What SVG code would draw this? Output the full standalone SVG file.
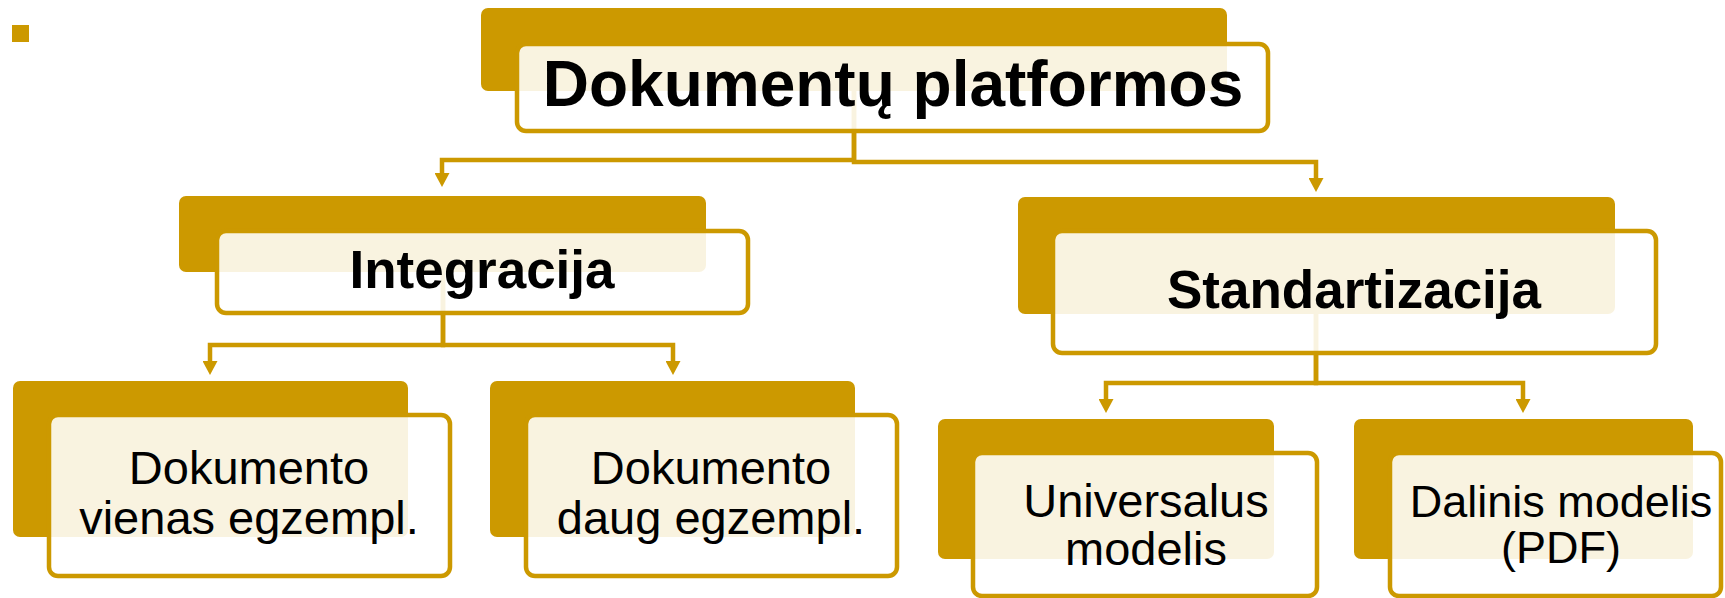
<svg xmlns="http://www.w3.org/2000/svg" width="1725" height="598" viewBox="0 0 1725 598">
<style>
.dark{fill:#CC9900;}
.box{fill:#FFFFFF;fill-opacity:0.88;stroke:#CC9900;stroke-width:4.5;}
.conn{fill:none;stroke:#CC9900;stroke-width:4.5;}
.t{font-family:"Liberation Sans",Arial,sans-serif;fill:#000000;text-anchor:middle;}
.b{font-weight:bold;}
</style>
<defs>
<marker id="arr" viewBox="0 0 14 15" refX="4" refY="7.5" markerWidth="14" markerHeight="15" markerUnits="userSpaceOnUse" orient="auto">
<path d="M0,0 L14,7.5 L0,15 Z" fill="#CC9900"/>
</marker>
</defs>
<rect x="12" y="25" width="17" height="17" fill="#CC9900"/>
<g id="connectors">
<path class="conn" d="M854,88 V160 H442 V177" marker-end="url(#arr)"/>
<path class="conn" d="M854,88 V162 H1316 V182" marker-end="url(#arr)"/>
<path class="conn" d="M443,271 V345 H210 V365" marker-end="url(#arr)"/>
<path class="conn" d="M443,271 V345 H673 V365" marker-end="url(#arr)"/>
<path class="conn" d="M1316,314 V383 H1106 V403" marker-end="url(#arr)"/>
<path class="conn" d="M1316,314 V383 H1523 V403" marker-end="url(#arr)"/>
</g>
<g id="node-root">
<rect class="dark" x="481" y="8" width="746" height="83" rx="7"/>
<rect class="box" x="517" y="44" width="751" height="87" rx="9"/>
<text class="t b" x="893" y="106" font-size="64">Dokumentų platformos</text>
</g>
<g id="node-integracija">
<rect class="dark" x="179" y="196" width="527" height="76" rx="7"/>
<rect class="box" x="217" y="231" width="531" height="82" rx="9"/>
<text class="t b" x="482" y="288" font-size="53">Integracija</text>
</g>
<g id="node-standartizacija">
<rect class="dark" x="1018" y="197" width="597" height="117" rx="7"/>
<rect class="box" x="1053" y="231" width="603" height="122" rx="9"/>
<text class="t b" x="1354" y="308" font-size="53">Standartizacija</text>
</g>
<g id="node-vienas">
<rect class="dark" x="13" y="381" width="395" height="156" rx="7"/>
<rect class="box" x="49" y="415" width="401" height="161" rx="9"/>
<text class="t" x="249" y="484" font-size="47">Dokumento</text>
<text class="t" x="249" y="534" font-size="47">vienas egzempl.</text>
</g>
<g id="node-daug">
<rect class="dark" x="490" y="381" width="365" height="156" rx="7"/>
<rect class="box" x="526" y="415" width="371" height="161" rx="9"/>
<text class="t" x="711" y="484" font-size="47">Dokumento</text>
<text class="t" x="711" y="534" font-size="47">daug egzempl.</text>
</g>
<g id="node-universalus">
<rect class="dark" x="938" y="419" width="336" height="140" rx="7"/>
<rect class="box" x="973" y="453" width="344" height="143" rx="9"/>
<text class="t" x="1146" y="517" font-size="47">Universalus</text>
<text class="t" x="1146" y="565" font-size="47">modelis</text>
</g>
<g id="node-dalinis">
<rect class="dark" x="1354" y="419" width="339" height="140" rx="7"/>
<rect class="box" x="1390" y="453" width="331" height="143" rx="9"/>
<text class="t" x="1561" y="517" font-size="45">Dalinis modelis</text>
<text class="t" x="1561" y="563" font-size="45">(PDF)</text>
</g>
</svg>
